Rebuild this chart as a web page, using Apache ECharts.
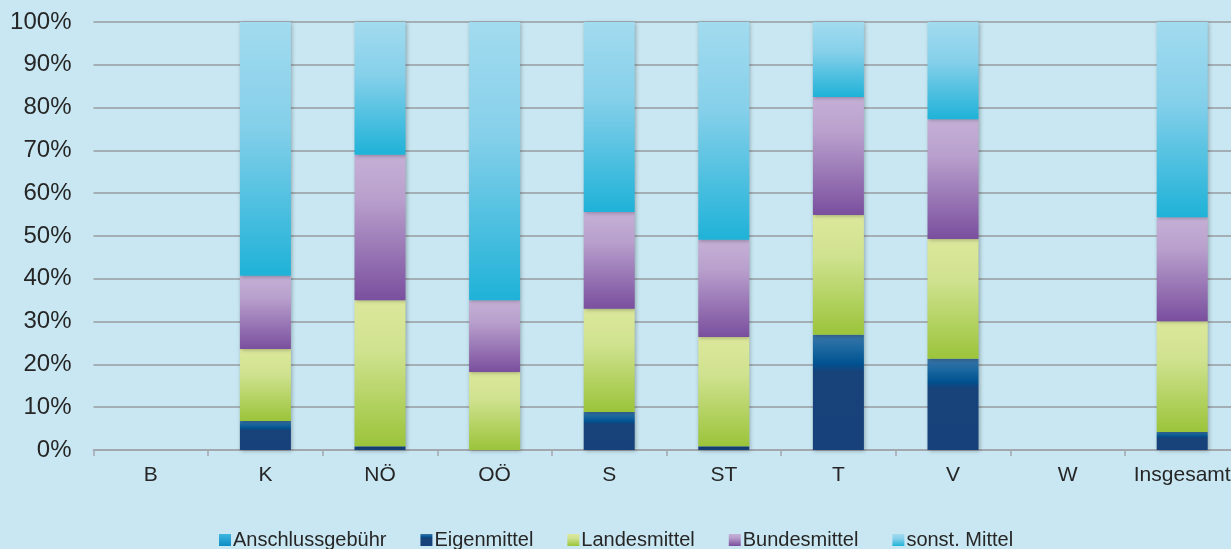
<!DOCTYPE html>
<html>
<head>
<meta charset="utf-8">
<script src="https://cdn.jsdelivr.net/npm/echarts@6/dist/echarts.min.js"></script>
<style>
  html, body { margin: 0; padding: 0; background: #c8e7f2; overflow: hidden; }
  #chart { width: 1242px; height: 549px; }
</style>
</head>
<body>
<div id="chart"></div>
<script>
// Funding shares per federal state (percent of total)
const categories = ['B', 'K', 'NÖ', 'OÖ', 'S', 'ST', 'T', 'V', 'W', 'Insgesamt'];
const anschlussgebuehr = [0, 0, 0, 0, 0, 0, 0, 0, 0, 0];
const eigenmittel      = [0, 6.8, 0.9, 0, 8.9, 0.9, 26.9, 21.3, 0, 4.2];
const landesmittel     = [0, 16.8, 34.1, 18.2, 24.1, 25.5, 28.0, 28.0, 0, 25.9];
const bundesmittel     = [0, 17.1, 34.0, 16.8, 22.6, 22.7, 27.6, 28.0, 0, 24.3];
const sonstMittel      = [0, 59.3, 31.0, 65.0, 44.4, 50.9, 17.5, 22.7, 0, 45.6];
const yTicks = [0, 10, 20, 30, 40, 50, 60, 70, 80, 90, 100];

function vgrad(stops) {
  return new echarts.graphic.LinearGradient(0, 0, 0, 1,
    stops.map(s => ({ offset: s[0], color: s[1] })));
}

const barShadow = {
  shadowBlur: 4,
  shadowColor: 'rgba(0,0,0,0.28)',
  shadowOffsetX: 1,
  shadowOffsetY: 1
};

function series(name, data, color) {
  return {
    name: name,
    type: 'bar',
    stack: 'total',
    data: data,
    barWidth: 51,
    itemStyle: Object.assign({ color: color }, barShadow),
    emphasis: { disabled: true }
  };
}

const chart = echarts.init(document.getElementById('chart'), null, { renderer: 'canvas' });

chart.setOption({
  backgroundColor: '#c8e7f2',
  animation: false,
  textStyle: { fontFamily: 'Liberation Sans, Arial, sans-serif', color: '#262626' },
  grid: { left: 93.5, top: 22, width: 1146, height: 428, containLabel: false },
  legend: {
    top: 525,
    left: 214,
    icon: 'rect',
    itemWidth: 12,
    itemHeight: 12,
    itemGap: 34,
    textStyle: { fontSize: 20, color: '#262626', padding: [0, 0, 0, -3] },
    data: ['Anschlussgebühr', 'Eigenmittel', 'Landesmittel', 'Bundesmittel', 'sonst. Mittel']
  },
  xAxis: {
    type: 'category',
    data: categories,
    boundaryGap: true,
    axisLine: { show: true, lineStyle: { color: '#a2a7ab', width: 1.5 } },
    axisTick: { show: true, interval: 0, length: 6, alignWithLabel: false, lineStyle: { color: '#a2a7ab', width: 1.5 } },
    axisLabel: { interval: 0, fontSize: 21, color: '#262626', margin: 15 }
  },
  yAxis: {
    type: 'value',
    min: yTicks[0],
    max: yTicks[yTicks.length - 1],
    interval: 10,
    axisLine: { show: false },
    axisTick: { show: false },
    axisLabel: { fontSize: 24, color: '#262626', margin: 22, formatter: '{value}%' },
    splitLine: { show: true, lineStyle: { color: '#979da1', width: 1.5 } }
  },
  series: [
    series('Anschlussgebühr', anschlussgebuehr,
      vgrad([[0, '#3fb6e0'], [1, '#0c8cc4']])),
    series('Eigenmittel', eigenmittel,
      vgrad([[0, '#3a75a8'], [0.12, '#1b67a0'], [0.25, '#005290'], [0.32, '#17427a'], [1, '#17417a']])),
    series('Landesmittel', landesmittel,
      vgrad([[0, '#dce89c'], [0.35, '#cfe28f'], [1, '#9bc43a']])),
    series('Bundesmittel', bundesmittel,
      vgrad([[0, '#c5b0d6'], [0.3, '#b9a0cd'], [1, '#7a4f9e']])),
    series('sonst. Mittel', sonstMittel,
      vgrad([[0, '#a2dbef'], [0.4, '#86d0ea'], [1, '#1fb2d8']]))
  ]
});
</script>
</body>
</html>
